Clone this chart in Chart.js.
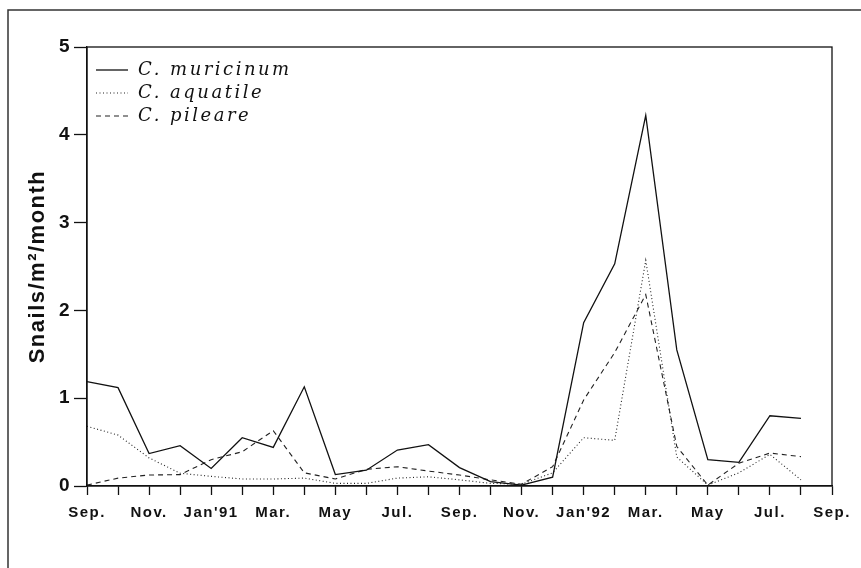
<!DOCTYPE html>
<html lang="en">
<head>
<meta charset="UTF-8">
<title>Snails per m2 per month</title>
<style>
    body {
        margin: 0;
        background: #fff;
    }
    canvas {
        display: block;
    }
</style>
</head>
<body>
<canvas id="snails" width="861" height="568"></canvas>

<script src="https://cdn.jsdelivr.net/npm/chart.js"></script>
<script>
    // monthly samples, Sep. 1990 to Aug. 1992 (last label closes the axis)
    const months = ['Sep.', 'Oct.', 'Nov.', 'Dec.', "Jan'91", 'Feb.', 'Mar.', 'Apr.', 'May', 'Jun.', 'Jul.', 'Aug.',
        'Sep.', 'Oct.', 'Nov.', 'Dec.', "Jan'92", 'Feb.', 'Mar.', 'Apr.', 'May', 'Jun.', 'Jul.', 'Aug.', 'Sep.'];

    const muricinum = [1.19, 1.12, 0.37, 0.46, 0.20, 0.55, 0.44, 1.13, 0.13, 0.18, 0.41, 0.47,
        0.21, 0.05, 0.01, 0.10, 1.86, 2.53, 4.22, 1.55, 0.30, 0.27, 0.80, 0.77];
    const aquatile = [0.68, 0.58, 0.32, 0.145, 0.11, 0.08, 0.08, 0.09, 0.03, 0.03, 0.09, 0.105,
        0.07, 0.03, 0.02, 0.15, 0.55, 0.52, 2.57, 0.33, 0.01, 0.15, 0.36, 0.07];
    const pileare = [0.01, 0.09, 0.125, 0.13, 0.30, 0.39, 0.63, 0.15, 0.08, 0.19, 0.22, 0.17,
        0.125, 0.07, 0.02, 0.22, 0.98, 1.52, 2.18, 0.45, 0.01, 0.26, 0.375, 0.335];

    const yTicks = [0, 1, 2, 3, 4, 5];

    const ink = '#111';

    // page frame, plot box and the in-plot legend
    const decorations = {
        id: 'decorations',
        beforeDraw(chart) {
            const ctx = chart.ctx;
            ctx.letterSpacing = '1.5px';
            ctx.save();
            ctx.strokeStyle = '#333';
            ctx.lineWidth = 1.5;
            ctx.beginPath();
            ctx.moveTo(861, 10);
            ctx.lineTo(8, 10);
            ctx.lineTo(8, 568);
            ctx.stroke();
            ctx.restore();
        },
        afterDraw(chart) {
            const ctx = chart.ctx;
            const area = chart.chartArea;
            ctx.save();
            ctx.strokeStyle = ink;
            ctx.lineWidth = 1.3;
            ctx.strokeRect(area.left, area.top, area.right - area.left, area.bottom - area.top);

            chart.data.datasets.forEach((ds, i) => {
                const y = area.top + 23 + i * 23;
                ctx.strokeStyle = ds.borderColor;
                ctx.lineWidth = ds.borderWidth;
                ctx.setLineDash(ds.borderDash || []);
                ctx.beginPath();
                ctx.moveTo(area.left + 9, y);
                ctx.lineTo(area.left + 41, y);
                ctx.stroke();
                ctx.setLineDash([]);
                ctx.fillStyle = ink;
                ctx.font = 'italic 18px "DejaVu Serif"';
                ctx.letterSpacing = '2.5px';
                ctx.textBaseline = 'middle';
                ctx.fillText(ds.label, area.left + 51, y);
            });
            ctx.restore();
        }
    };

    new Chart(document.getElementById('snails'), {
        type: 'line',
        data: {
            labels: months,
            datasets: [{
                label: 'C. muricinum',
                data: muricinum,
                borderColor: ink,
                borderWidth: 1.3
            }, {
                label: 'C. aquatile',
                data: aquatile,
                borderColor: '#222',
                borderWidth: 1.1,
                borderDash: [1, 2.5]
            }, {
                label: 'C. pileare',
                data: pileare,
                borderColor: '#222',
                borderWidth: 1.1,
                borderDash: [5, 4]
            }]
        },
        options: {
            responsive: false,
            animation: false,
            devicePixelRatio: 1,
            layout: {
                padding: { left: 0, top: 47, right: 29, bottom: 0 }
            },
            elements: {
                point: { radius: 0 },
                line: { tension: 0, fill: false }
            },
            plugins: {
                legend: { display: false },
                tooltip: { enabled: false }
            },
            scales: {
                x: {
                    type: 'category',
                    offset: false,
                    afterFit: s => { s.height = 82; },
                    grid: {
                        drawOnChartArea: false,
                        color: ink,
                        tickLength: 9,
                        tickWidth: 1.3
                    },
                    border: { color: ink, width: 1.3 },
                    ticks: {
                        autoSkip: false,
                        maxRotation: 0,
                        padding: 9,
                        color: ink,
                        font: { family: '"Liberation Sans", Arial, sans-serif', size: 15, weight: 'bold' },
                        callback(val, i) {
                            return i % 2 === 0 ? months[i] : '';
                        }
                    }
                },
                y: {
                    min: 0,
                    max: 5,
                    afterFit: s => { s.width = 87; },
                    afterBuildTicks: s => { s.ticks = yTicks.map(v => ({ value: v })); },
                    grid: {
                        drawOnChartArea: false,
                        color: ink,
                        tickLength: 13,
                        tickWidth: 1.3
                    },
                    border: { color: ink, width: 1.3 },
                    ticks: {
                        padding: 3,
                        color: ink,
                        font: { family: '"Liberation Sans", Arial, sans-serif', size: 19, weight: 'bold' }
                    },
                    title: {
                        display: true,
                        text: 'Snails/m²/month',
                        color: ink,
                        padding: { top: 25, bottom: 0 },
                        font: { family: '"Liberation Sans", Arial, sans-serif', size: 22, weight: 'bold' }
                    }
                }
            }
        },
        plugins: [decorations]
    });
</script>
</body>
</html>
